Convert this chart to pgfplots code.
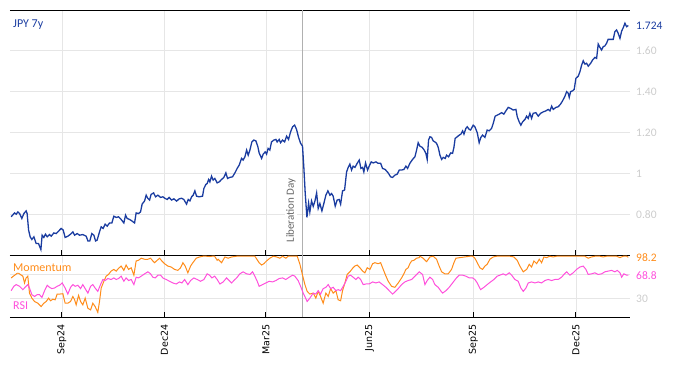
\documentclass[border=0pt]{standalone}
\usepackage{fontspec}
\setmainfont{Carlito}
\newfontfamily\dejavu{DejaVu Sans}
\usepackage{pgfplots}
\pgfplotsset{compat=1.18}
\definecolor{jpy}{HTML}{1A3CA0}
\definecolor{mom}{HTML}{FF8C1A}
\definecolor{rsi}{HTML}{FF50DC}
\definecolor{gridc}{HTML}{E6E6E6}
\definecolor{lblc}{HTML}{CCCCCC}
\definecolor{libc}{HTML}{B0B0B0}
\begin{document}
\begin{tikzpicture}[x=1pt,y=1pt]
\path[use as bounding box] (0,0) rectangle (674,366);
\pgfplotsset{
  panel/.style={
    scale only axis, width=620pt, xmin=-46, xmax=504,
    separate axis lines,
    x axis line style={black, line width=0.9pt},
    y axis line style={draw=none},
    xtick={0,91,181,273,365,456},
    xtick pos=left, tick align=inside,
    major tick length=5pt,
    xtick style={black, line width=0.8pt},
    ytick style={draw=none},
    yticklabel pos=right,
    grid=major, major grid style={gridc, line width=0.7pt},
    clip mode=individual,
    tick label style={font=\fontsize{11.5}{12}\selectfont},
    yticklabel style={text=lblc, anchor=west, inner sep=1pt, xshift=5pt},
  }
}
\begin{axis}[panel, at={(10pt,111pt)}, anchor=south west, height=245pt,
  ymin=0.6, ymax=1.8,
  ytick={0.8,1,1.2,1.4,1.6}, yticklabels={0.80,1,1.20,1.40,1.60},
  xticklabels={},
  extra y ticks={1.724}, extra y tick labels={1.724},
  extra y tick style={grid=none, yticklabel style={text=jpy}},
]
\draw[libc, line width=0.8pt] (axis cs:213,0.6) -- (axis cs:213,1.8);
\addplot[jpy, line width=1.3pt] table {
-45.0 0.787
-42.0 0.806
-40.5 0.800
-39.0 0.811
-37.5 0.803
-35.5 0.779
-33.7 0.803
-31.7 0.816
-30.8 0.803
-29.5 0.722
-28.1 0.689
-26.6 0.676
-24.8 0.689
-22.8 0.656
-20.7 0.656
-18.6 0.627
-17.5 0.697
-16.0 0.686
-14.5 0.702
-13.0 0.689
-10.9 0.700
-9.5 0.692
-7.1 0.708
-5.1 0.705
-2.9 0.717
-0.6 0.730
1.2 0.722
2.9 0.686
5.3 0.692
7.7 0.702
9.8 0.713
11.3 0.697
13.6 0.705
15.7 0.697
18.6 0.700
21.6 0.692
23.1 0.669
24.8 0.669
26.6 0.705
28.4 0.697
29.9 0.669
31.3 0.673
33.4 0.713
34.9 0.738
36.6 0.730
38.4 0.751
40.2 0.741
42.3 0.757
44.4 0.757
46.1 0.790
48.2 0.784
50.3 0.787
52.6 0.774
55.0 0.757
56.5 0.795
57.9 0.779
60.1 0.774
62.1 0.767
64.5 0.757
65.9 0.806
68.0 0.803
69.8 0.811
71.2 0.849
73.4 0.865
74.8 0.893
76.3 0.877
77.8 0.869
79.2 0.897
81.4 0.904
83.1 0.885
85.2 0.893
87.6 0.882
89.6 0.885
91.6 0.877
93.4 0.872
95.2 0.882
97.3 0.869
99.4 0.875
101.8 0.864
104.1 0.875
106.2 0.878
108.2 0.872
110.6 0.849
112.1 0.872
113.6 0.865
115.1 0.885
116.5 0.893
118.0 0.914
119.5 0.888
121.8 0.885
124.8 0.888
126.0 0.926
127.8 0.946
128.9 0.950
130.2 0.970
131.3 0.958
132.8 0.986
134.2 0.967
135.7 0.975
137.8 0.953
139.6 0.958
141.7 0.970
143.7 0.980
145.5 1.002
147.0 0.975
149.0 0.980
151.4 0.983
153.5 1.002
155.5 1.024
157.3 1.040
159.4 1.073
160.8 1.065
162.4 1.081
163.9 1.114
165.3 1.089
166.8 1.114
168.6 1.154
170.3 1.163
172.1 1.159
173.9 1.130
175.0 1.100
177.2 1.073
178.6 1.094
180.4 1.105
181.6 1.094
183.0 1.122
184.5 1.114
186.0 1.154
188.1 1.163
189.9 1.166
191.0 1.154
192.8 1.166
194.0 1.150
195.8 1.163
197.6 1.154
199.4 1.182
201.1 1.166
202.9 1.203
204.7 1.228
206.5 1.236
208.2 1.215
210.0 1.176
211.8 1.147
213.5 1.133
214.7 1.025
215.9 0.901
217.4 0.784
218.9 0.854
220.0 0.811
221.5 0.865
223.0 0.838
224.5 0.864
226.0 0.904
227.4 0.828
228.9 0.852
230.7 0.816
232.4 0.852
234.2 0.893
236.0 0.914
237.8 0.893
239.3 0.901
240.7 0.888
242.5 0.839
244.2 0.869
246.0 0.872
247.3 0.849
249.0 0.914
250.8 0.918
252.6 1.007
254.0 1.029
255.5 1.045
257.0 1.016
258.4 1.035
260.0 1.029
262.0 1.049
263.8 1.065
265.3 1.024
266.8 1.029
267.9 1.007
269.4 1.051
271.2 1.016
272.6 1.035
274.4 1.056
276.2 1.051
278.6 1.056
280.6 1.049
282.8 1.049
284.5 1.024
286.8 1.019
289.5 1.002
291.6 0.983
293.4 0.980
295.4 0.991
297.5 0.996
299.3 1.016
301.4 1.016
303.4 1.019
305.2 1.035
306.7 1.024
308.7 1.049
311.1 1.068
313.2 1.081
314.7 1.114
316.1 1.150
317.6 1.133
319.7 1.127
321.4 1.114
322.9 1.098
324.1 1.068
325.3 1.163
326.5 1.179
328.0 1.176
329.4 1.159
330.9 1.154
332.4 1.147
333.9 1.127
335.4 1.089
336.9 1.068
338.3 1.078
340.1 1.073
341.3 1.089
343.1 1.081
344.9 1.100
346.6 1.098
347.8 1.127
348.9 1.171
350.7 1.179
352.5 1.187
354.0 1.192
355.5 1.208
356.7 1.192
358.4 1.220
359.6 1.228
361.4 1.215
362.6 1.212
364.9 1.236
366.4 1.228
368.5 1.199
370.2 1.150
371.7 1.176
373.2 1.187
375.3 1.176
377.3 1.212
379.1 1.208
381.2 1.220
382.7 1.245
384.4 1.280
386.2 1.285
388.0 1.290
390.1 1.297
392.1 1.290
393.9 1.306
396.0 1.323
398.1 1.318
400.4 1.310
402.8 1.313
404.0 1.277
405.7 1.252
407.2 1.236
408.7 1.252
410.8 1.264
412.3 1.280
413.7 1.269
415.2 1.294
416.7 1.269
418.1 1.294
420.5 1.297
422.6 1.280
424.7 1.294
427.0 1.301
429.4 1.306
431.4 1.313
433.0 1.306
434.5 1.329
435.9 1.313
438.3 1.323
440.3 1.326
442.4 1.339
444.2 1.355
446.3 1.378
447.8 1.400
449.2 1.392
450.1 1.372
451.3 1.400
453.1 1.404
454.5 1.411
456.0 1.465
458.1 1.476
459.6 1.498
461.1 1.530
462.5 1.551
464.0 1.535
465.5 1.539
467.0 1.525
469.1 1.539
470.8 1.555
472.9 1.568
474.4 1.563
475.8 1.633
477.3 1.617
478.8 1.604
480.2 1.620
481.7 1.624
483.2 1.637
484.6 1.656
487.7 1.656
489.1 1.656
490.6 1.694
492.1 1.702
493.5 1.686
495.1 1.661
496.6 1.697
498.0 1.713
499.5 1.735
501.0 1.718
502.5 1.724
};
\node[anchor=west, text=jpy, font=\fontsize{12}{14}\selectfont, inner sep=1pt] at (rel axis cs:0,0.939) [xshift=2pt] {JPY 7y};
\node[rotate=90, anchor=south west, fill=white, inner sep=1.5pt, text=black!60, font=\fontsize{11}{12}\selectfont] at (axis cs:209,0.653) {Liberation Day};
\end{axis}
\begin{axis}[panel, at={(10pt,49pt)}, anchor=south west, height=62pt,
  ymin=0, ymax=102,
  ytick={30,70}, yticklabels={30,{}},
  xticklabels={Sep24,Dec24,Mar25,Jun25,Sep25,Dec25},
  xticklabel style={rotate=90, anchor=east, text=black, font=\dejavu\fontsize{9.5}{10}\selectfont, xshift=-4pt},
]
\draw[libc, line width=0.8pt] (axis cs:213,0) -- (axis cs:213,102);
\addplot[mom, line width=1pt] table {
-45.0 64.3
-39.0 72.7
-34.6 67.2
-33.1 56.0
-31.7 64.3
-30.2 67.2
-28.7 39.3
-26.6 31.0
-24.2 25.5
-21.3 22.7
-18.4 17.2
-16.0 22.7
-13.9 25.5
-11.8 31.0
-10.0 26.7
-8.0 29.3
-5.9 28.3
-4.2 37.7
-2.0 37.7
0.9 38.3
2.9 22.7
5.3 22.7
7.7 25.5
9.8 33.8
11.3 28.3
12.7 20.0
14.8 35.5
16.6 25.5
18.6 20.0
20.7 31.0
23.1 14.3
25.5 11.7
27.5 22.7
29.5 17.2
31.9 7.7
33.4 25.5
34.9 47.7
37.3 58.8
39.3 67.2
41.4 70.0
43.7 75.5
46.1 78.3
48.2 75.5
50.3 80.0
52.6 83.8
55.0 76.7
57.0 85.5
59.2 78.3
61.5 81.0
63.9 68.8
65.9 92.2
68.0 93.3
70.4 96.7
73.4 95.0
76.3 95.0
78.7 96.7
80.7 92.2
82.2 89.3
84.6 93.3
86.7 96.7
88.7 92.2
91.1 87.7
94.0 83.8
97.0 82.2
100.0 78.3
102.9 76.7
105.3 81.0
107.4 89.3
109.4 83.8
111.8 72.7
114.2 83.8
116.2 89.3
119.2 96.7
122.2 98.8
125.1 100
128.0 100
131.0 99.5
133.1 100
135.5 100
137.8 93.3
138.7 95.0
141.7 89.3
144.6 98.8
147.5 96.7
150.6 98.8
155.0 100
160.8 100
166.8 100
171.2 100
175.0 89.3
177.2 85.5
179.2 87.7
181.6 92.2
184.5 96.7
187.5 100
190.5 98.8
193.4 96.7
195.8 100
198.7 96.7
200.8 100
203.8 100
206.7 100
208.8 100
211.2 86.7
213.5 68.8
215.6 53.3
217.6 42.2
220.0 37.7
223.0 39.3
225.3 31.0
227.4 42.2
229.5 33.8
231.8 22.7
234.2 39.3
236.3 33.8
238.4 46.7
240.7 39.3
243.1 43.3
245.1 28.3
247.3 26.7
249.0 43.3
251.1 56.0
253.1 70.0
255.5 74.3
257.9 80.0
259.9 83.8
262.0 85.5
264.4 81.0
266.8 75.5
268.8 72.7
270.9 81.0
273.3 78.3
275.7 87.7
277.7 89.3
280.6 87.7
282.8 89.3
285.1 78.3
287.5 67.2
289.5 58.8
292.5 50.5
295.4 48.8
298.4 56.0
301.4 64.3
303.4 71.0
305.2 78.3
307.2 81.0
308.7 87.7
310.3 92.2
312.3 93.3
314.7 96.7
317.0 97.7
317.6 100
320.5 96.7
323.6 91.0
326.5 98.8
329.4 100
332.4 95.0
334.7 83.8
336.9 74.3
339.8 71.0
342.7 71.0
345.7 78.3
347.8 89.3
349.6 96.7
353.1 97.7
357.5 98.8
362.0 100
364.4 100
366.4 96.7
368.5 89.3
370.8 81.0
373.2 78.3
375.3 83.8
377.3 86.7
379.7 95.0
382.7 98.8
385.7 100
388.6 100
393.0 100
397.5 100
401.0 98.8
403.9 93.3
406.3 83.8
409.3 74.3
412.3 78.3
414.6 86.7
416.7 82.2
418.8 92.2
421.2 87.7
423.5 95.0
425.6 89.3
427.6 98.8
430.0 97.7
432.9 100
435.9 98.8
438.9 100
441.8 100
453.6 100
459.6 100
464.0 100
466.9 96.7
469.9 98.8
472.9 100
477.3 100
480.3 98.8
483.2 100
487.7 100
492.1 100
495.1 97.7
498.0 100
501.0 100
502.5 98.2
};
\addplot[rsi, line width=1pt] table {
-45.0 43.3
-42.6 50.5
-40.5 53.3
-37.5 50.5
-34.6 45.0
-31.7 50.5
-30.2 53.3
-28.7 47.7
-26.6 36.7
-24.2 33.8
-21.9 36.7
-19.8 36.7
-17.7 32.2
-15.3 43.3
-13.0 52.2
-10.9 48.8
-8.9 46.7
-6.5 47.7
-4.2 50.5
-2.0 52.2
0.3 56.0
2.9 47.7
5.3 37.7
7.7 48.8
9.8 53.3
11.8 50.5
14.2 52.2
16.6 46.7
18.6 53.3
20.7 46.7
23.1 39.3
25.5 50.5
27.5 53.3
29.5 47.7
31.9 42.2
34.3 53.3
36.4 61.7
38.4 60.0
40.8 63.3
43.7 61.7
46.1 64.3
48.2 61.7
50.3 63.3
52.6 67.2
55.0 58.8
57.0 64.3
59.2 60.0
61.5 61.7
63.9 53.3
65.9 65.5
68.0 64.3
70.4 67.2
73.4 71.0
76.3 74.3
78.7 71.0
80.7 65.5
82.8 64.3
85.2 68.8
87.6 68.8
89.6 64.3
92.5 61.7
95.6 58.8
98.5 56.0
101.4 54.3
104.4 57.7
106.5 56.0
108.9 61.7
111.8 53.3
114.2 60.0
117.1 64.3
120.0 61.7
123.1 58.8
126.0 61.7
128.9 71.0
131.0 68.8
133.1 64.3
135.5 67.2
137.8 61.7
140.2 54.3
143.1 57.7
146.1 64.3
148.4 60.0
150.6 56.0
152.6 60.0
155.0 64.3
157.9 71.0
160.8 74.3
163.9 71.0
166.8 70.0
169.2 74.3
171.2 67.2
173.3 58.8
175.0 50.5
178.1 53.3
181.0 56.0
183.9 58.8
186.9 57.7
189.9 60.0
192.8 63.3
195.8 64.3
198.7 61.7
201.7 65.5
204.7 68.8
206.7 67.2
209.6 60.0
211.8 50.5
214.1 39.3
216.5 30.0
217.6 25.5
220.0 31.0
223.0 39.3
225.3 37.7
227.4 43.3
229.5 37.7
231.8 46.7
234.2 48.8
236.3 53.3
238.4 46.7
240.7 48.8
243.1 43.3
245.1 45.0
247.3 43.3
249.6 50.5
252.0 58.8
254.0 67.2
256.1 68.8
258.4 65.5
260.8 61.7
262.9 65.5
265.0 61.7
267.3 53.3
269.7 54.3
272.6 54.3
275.7 57.7
278.6 56.0
281.5 57.7
284.5 53.3
287.5 48.8
290.4 43.3
293.4 37.7
295.4 41.0
298.4 46.7
301.4 53.3
304.3 57.7
307.2 60.0
310.3 61.7
312.3 65.5
314.7 70.0
317.0 74.3
320.0 70.0
322.1 53.3
324.1 60.0
326.5 65.5
328.9 61.7
330.9 53.3
333.9 48.8
336.0 43.3
337.8 39.3
340.7 43.3
343.6 48.8
346.6 56.0
349.6 63.3
352.5 68.8
355.5 68.8
358.4 67.2
361.4 64.3
364.4 64.3
366.4 61.7
368.5 56.0
371.5 45.0
374.4 48.8
377.3 53.3
380.3 57.7
383.3 61.7
386.2 67.2
388.6 68.8
391.5 71.0
393.9 68.8
396.9 72.7
399.0 68.8
401.9 61.7
404.8 58.8
407.2 47.7
409.3 42.2
411.7 47.7
413.7 56.0
416.7 57.7
419.7 56.0
422.6 57.7
425.6 56.0
428.5 60.0
431.4 61.7
434.5 60.0
437.4 61.7
440.3 61.7
443.3 65.5
445.4 70.0
447.8 74.3
450.7 68.8
453.6 72.7
456.6 78.3
459.6 82.2
462.5 83.8
464.9 78.3
466.9 70.0
469.9 71.0
472.9 72.7
475.8 70.0
478.8 71.0
481.7 74.3
484.6 75.5
487.7 76.7
490.6 74.3
492.7 76.7
495.1 72.7
496.6 65.5
498.6 71.0
501.0 68.8
502.5 68.8
};
\node[anchor=west, text=mom, fill=white, fill opacity=0.7, text opacity=1, inner sep=1pt, font=\fontsize{12}{14}\selectfont] at (rel axis cs:0,0.79) [xshift=2pt] {Momentum};
\node[anchor=west, text=rsi, fill=white, fill opacity=0.7, text opacity=1, inner sep=1pt, font=\fontsize{12}{14}\selectfont] at (rel axis cs:0,0.18) [xshift=2pt] {RSI};
\node[anchor=west, text=mom, inner sep=1pt, font=\fontsize{11.5}{12}\selectfont] at (axis cs:504,98.2) [xshift=5pt] {98.2};
\node[anchor=west, text=rsi, inner sep=1pt, font=\fontsize{11.5}{12}\selectfont] at (axis cs:504,68.8) [xshift=5pt] {68.8};
\end{axis}
\end{tikzpicture}
\end{document}
